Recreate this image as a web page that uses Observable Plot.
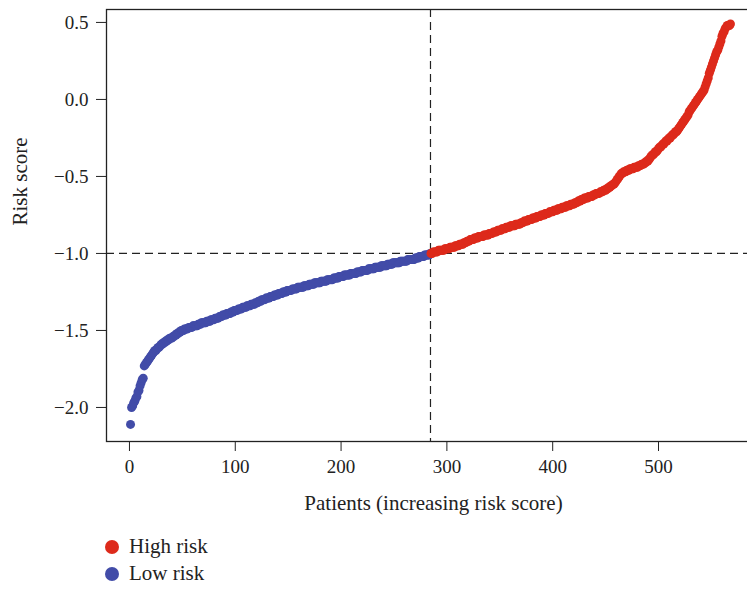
<!DOCTYPE html>
<html>
<head>
<meta charset="utf-8">
<script src="https://cdn.jsdelivr.net/npm/d3@7"></script>
<script src="https://cdn.jsdelivr.net/npm/@observablehq/plot@0.6"></script>
<style>
  html, body { margin: 0; padding: 0; background: #fff; overflow: hidden; width: 747px; height: 590px; }
  #wrap { position: relative; width: 747px; height: 590px; overflow: hidden; }
  #chart svg { max-width: none !important; }
  #legend { position: absolute; left: 105px; top: 533px; font-family: "Liberation Serif", serif; font-size: 21px; color: #222; }
  .row { display: flex; align-items: center; height: 27px; }
  .sw { width: 14px; height: 14px; border-radius: 50%; margin-right: 10px; }
</style>
</head>
<body>
<div id="wrap"><div id="chart"></div><div id="legend"></div></div>
<script>
// Sorted risk scores, low-risk group (patients 1..284)
const lowRisk = [
  -2.11,-2.00,-1.99,-1.97,-1.96,-1.94,-1.93,-1.90,-1.89,-1.86,-1.84,-1.82,-1.81,-1.73,-1.72,-1.71,-1.70,-1.69,-1.68,-1.67,-1.66,-1.65,-1.64,-1.63,-1.63,
  -1.62,-1.61,-1.61,-1.60,-1.59,-1.59,-1.58,-1.58,-1.57,-1.57,-1.56,-1.56,-1.55,-1.55,-1.55,-1.54,-1.54,-1.53,-1.53,-1.52,-1.52,-1.51,-1.51,-1.50,-1.50,
  -1.50,-1.49,-1.49,-1.49,-1.49,-1.48,-1.48,-1.48,-1.48,-1.47,-1.47,-1.47,-1.47,-1.47,-1.46,-1.46,-1.46,-1.45,-1.45,-1.45,
  -1.45,-1.45,-1.44,-1.44,-1.44,-1.44,-1.43,-1.43,-1.43,-1.43,-1.42,-1.42,-1.42,-1.42,-1.41,-1.41,
  -1.41,-1.40,-1.40,-1.40,-1.40,-1.39,-1.39,-1.39,-1.39,-1.38,-1.38,-1.38,-1.37,-1.37,
  -1.37,-1.37,-1.36,-1.36,-1.36,-1.36,-1.35,-1.35,-1.35,-1.35,-1.34,-1.34,-1.34,-1.34,-1.33,-1.33,-1.33,-1.33,-1.32,-1.32,-1.32,-1.31,-1.31,-1.31,
  -1.30,-1.30,-1.30,-1.30,-1.29,-1.29,-1.29,-1.29,-1.28,-1.28,-1.28,-1.28,-1.27,-1.27,-1.27,-1.27,-1.26,-1.26,-1.26,-1.26,-1.25,-1.25,
  -1.25,-1.25,-1.24,-1.24,-1.24,-1.24,-1.24,-1.23,-1.23,-1.23,-1.23,-1.23,-1.22,-1.22,-1.22,-1.22,-1.22,-1.22,-1.21,-1.21,-1.21,-1.21,
  -1.21,-1.20,-1.20,-1.20,-1.20,-1.20,-1.19,-1.19,-1.19,-1.19,-1.19,-1.19,-1.18,-1.18,-1.18,-1.18,-1.18,-1.18,-1.17,-1.17,-1.17,-1.17,
  -1.17,-1.17,-1.16,-1.16,-1.16,-1.16,-1.16,-1.15,-1.15,-1.15,-1.15,-1.15,-1.14,-1.14,-1.14,-1.14,-1.14,-1.14,-1.13,-1.13,-1.13,-1.13,-1.13,-1.13,-1.12,
  -1.12,-1.12,-1.12,-1.12,-1.11,-1.11,-1.11,-1.11,-1.11,-1.11,-1.10,-1.10,-1.10,-1.10,-1.10,-1.10,-1.09,-1.09,-1.09,-1.09,-1.09,-1.09,-1.08,-1.08,-1.08,
  -1.08,-1.08,-1.08,-1.07,-1.07,-1.07,-1.07,-1.07,-1.06,-1.06,-1.06,-1.06,-1.06,-1.06,-1.06,-1.05,-1.05,-1.05,-1.05,-1.05,
  -1.05,-1.05,-1.04,-1.04,-1.04,-1.04,-1.04,-1.04,-1.04,-1.03,-1.03,-1.03,-1.03,-1.02,-1.02,-1.02,-1.02,-1.02,-1.01,-1.01,-1.01,-1.01,-1.01,-1.00
];
// Sorted risk scores, high-risk group (following patients)
const highRisk = [
  -1.00,-1.00,-0.99,-0.99,-0.99,-0.99,-0.99,-0.98,-0.98,-0.98,-0.98,-0.98,-0.98,-0.97,-0.97,-0.97,-0.97,-0.97,-0.96,-0.96,-0.96,-0.96,
  -0.96,-0.95,-0.95,-0.95,-0.95,-0.94,-0.94,-0.94,-0.94,-0.93,-0.93,-0.93,-0.92,-0.92,-0.92,-0.91,-0.91,-0.91,-0.91,-0.90,-0.90,-0.90,-0.90,-0.89,-0.89,-0.89,-0.89,-0.89,-0.88,-0.88,-0.88,-0.88,
  -0.88,-0.87,-0.87,-0.87,-0.87,-0.86,-0.86,-0.86,-0.86,-0.85,-0.85,-0.85,-0.85,-0.84,-0.84,-0.84,-0.84,-0.83,-0.83,-0.83,-0.83,-0.82,-0.82,-0.82,-0.82,-0.82,-0.81,-0.81,-0.81,-0.81,-0.81,
  -0.80,-0.80,-0.80,-0.79,-0.79,-0.79,-0.79,-0.78,-0.78,-0.78,-0.78,-0.77,-0.77,-0.77,-0.77,-0.76,-0.76,-0.76,-0.76,-0.75,-0.75,-0.75,-0.75,-0.74,-0.74,-0.74,
  -0.74,-0.73,-0.73,-0.73,-0.73,-0.72,-0.72,-0.72,-0.72,-0.71,-0.71,-0.71,-0.71,-0.70,-0.70,-0.70,-0.70,-0.69,-0.69,-0.69,-0.69,-0.68,
  -0.68,-0.68,-0.68,-0.67,-0.67,-0.67,-0.66,-0.66,-0.66,-0.65,-0.65,-0.65,-0.64,-0.64,-0.64,-0.64,-0.63,-0.63,-0.63,-0.63,-0.62,-0.62,-0.62,-0.61,-0.61,
  -0.61,-0.61,-0.60,-0.60,-0.60,-0.59,-0.59,-0.59,-0.58,-0.58,-0.57,-0.57,-0.56,-0.56,-0.55,-0.55,-0.54,-0.53,-0.52,-0.51,-0.50,-0.49,
  -0.48,-0.48,-0.47,-0.47,-0.47,-0.46,-0.46,-0.46,-0.45,-0.45,-0.45,-0.45,-0.44,-0.44,-0.44,-0.44,-0.43,-0.43,-0.43,-0.42,-0.42,-0.42,
  -0.41,-0.41,-0.40,-0.40,-0.39,-0.38,-0.37,-0.36,-0.36,-0.35,-0.34,-0.34,-0.33,
  -0.32,-0.31,-0.31,-0.30,-0.29,-0.29,-0.28,-0.27,-0.27,-0.26,-0.25,-0.25,-0.24,-0.23,-0.23,-0.22,-0.21,-0.21,-0.20,
  -0.19,-0.18,-0.17,-0.16,-0.15,-0.14,-0.13,-0.12,-0.11,-0.10,-0.08,-0.07,
  -0.06,-0.05,-0.04,-0.03,-0.02,-0.01,0.00,0.01,0.02,0.03,0.04,0.05,0.06,
  0.08,0.10,0.12,0.14,0.17,0.19,0.21,0.23,0.25,0.27,0.29,0.31,0.32,0.34,0.36,0.38,0.41,0.43,0.44,0.46,0.47,0.48,0.48,0.48,0.49
];
const groups = ["High risk", "Low risk"];
const colors = ["#DD2A1B", "#424CA8"];
const xTicks = [0, 100, 200, 300, 400, 500];
const yTicks = [-2.0, -1.5, -1.0, -0.5, 0.0, 0.5];
const riskCutoff = -1.0;
const xLabel = "Patients (increasing risk score)";
const yLabel = "Risk score";

const data = [
  ...lowRisk.map((v, i) => ({index: i + 1, score: v, group: "Low risk"})),
  ...highRisk.map((v, i) => ({index: lowRisk.length + i + 1, score: v, group: "High risk"}))
];
const cutIndex = lowRisk.length + 0.5;

const chart = Plot.plot({
  width: 760,
  height: 525,
  marginLeft: 106,
  marginRight: 0,
  marginTop: 9,
  marginBottom: 84,
  style: {fontFamily: "'Liberation Serif', serif", fontSize: "19px", color: "#222", background: "white", maxWidth: "none"},
  x: {domain: [-21.7, 596.4], ticks: xTicks, tickSize: 10, tickPadding: 8, label: null},
  y: {domain: [-2.221, 0.584], ticks: yTicks, tickSize: 10, tickPadding: 8, tickFormat: d3.format(".1f"), label: null},
  color: {domain: groups, range: colors},
  marks: [
    Plot.frame({stroke: "#222", strokeWidth: 1.3}),
    Plot.ruleX([cutIndex], {stroke: "#222", strokeWidth: 1.2, strokeDasharray: "8,5"}),
    Plot.ruleY([riskCutoff], {stroke: "#222", strokeWidth: 1.2, strokeDasharray: "8,5"}),
    Plot.dot(data, {x: "index", y: "score", fill: "group", r: 4.5}),
    Plot.text([xLabel], {text: d => d, frameAnchor: "bottom", lineAnchor: "middle", dy: 62, fontSize: 21, fill: "#222"}),
    Plot.text([yLabel], {text: d => d, frameAnchor: "left", lineAnchor: "middle", dx: -86, rotate: -90, fontSize: 21, fill: "#222"})
  ]
});
chart.style.maxWidth = "none";
document.getElementById("chart").appendChild(chart);

const legend = document.getElementById("legend");
groups.forEach((g, i) => {
  const row = document.createElement("div");
  row.className = "row";
  const sw = document.createElement("span");
  sw.className = "sw";
  sw.style.background = colors[i];
  const t = document.createElement("span");
  t.textContent = g;
  row.appendChild(sw);
  row.appendChild(t);
  legend.appendChild(row);
});
</script>
</body>
</html>
